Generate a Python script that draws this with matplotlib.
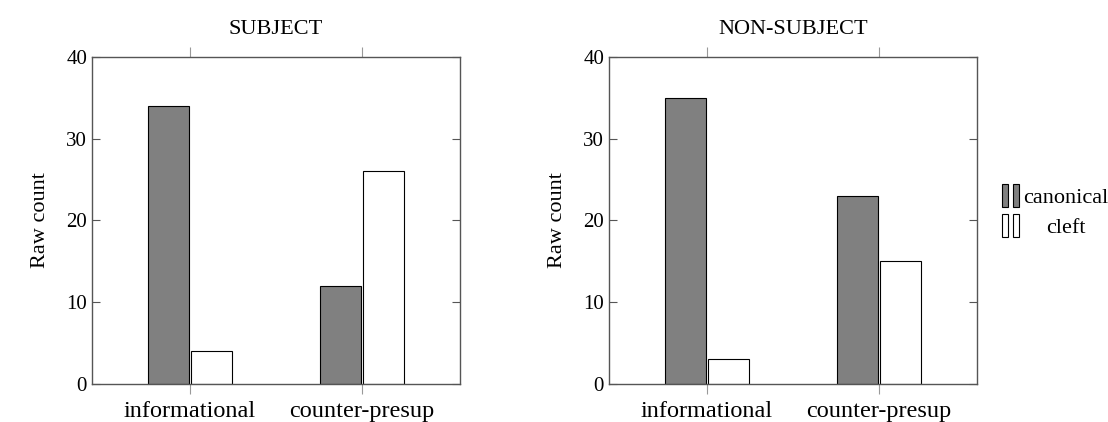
import matplotlib.pyplot as plt
from matplotlib.patches import Patch
from matplotlib.legend_handler import HandlerTuple

plt.rcParams['font.family'] = ['Liberation Serif', 'DejaVu Serif']
plt.rcParams['font.size'] = 15

categories = ['informational', 'counter-presup']
subject_canonical = [34, 12]
subject_cleft = [4, 26]
nonsubject_canonical = [35, 23]
nonsubject_cleft = [3, 15]
yticks = [0, 10, 20, 30, 40]

GRAY = '#808080'
AXC = '#555555'
width = 0.235
shift = 0.125

fig = plt.figure(figsize=(11.08, 4.22), dpi=100)
ax1 = fig.add_axes([0.083, 0.090, 0.332, 0.775])
ax2 = fig.add_axes([0.5496, 0.090, 0.332, 0.775])

x = list(range(len(categories)))
panels = [(ax1, 'SUBJECT', subject_canonical, subject_cleft),
          (ax2, 'NON-SUBJECT', nonsubject_canonical, nonsubject_cleft)]

for ax, title, canon, cleft in panels:
    ax.bar([i - shift for i in x], canon, width, color=GRAY,
           edgecolor='black', linewidth=0.8, label='canonical')
    ax.bar([i + shift for i in x], cleft, width, color='white',
           edgecolor='black', linewidth=0.8, label='cleft')
    ax.set_xlim(-0.57, 1.57)
    ax.set_ylim(0, 40)
    ax.set_yticks(yticks)
    ax.set_xticks(x)
    ax.set_xticklabels(categories, fontsize=17.5)
    ax.set_title(title, pad=16.5, fontsize=16)
    ax.set_ylabel('Raw count', labelpad=12, fontsize=16)
    for s in ax.spines.values():
        s.set_color(AXC)
        s.set_linewidth(1.0)
    ax.tick_params(axis='y', direction='in', left=True, right=True,
                   length=6, color=AXC, width=0.8)
    ax.tick_params(axis='x', direction='out', top=True, bottom=True,
                   length=7, color='#999999', width=0.8, pad=5)

h_can = (Patch(facecolor=GRAY, edgecolor='black', linewidth=0.8),
         Patch(facecolor=GRAY, edgecolor='black', linewidth=0.8))
h_cle = (Patch(facecolor='white', edgecolor='black', linewidth=0.8),
         Patch(facecolor='white', edgecolor='black', linewidth=0.8))
leg = fig.legend([h_can, h_cle], ['canonical', 'cleft'],
                 handler_map={tuple: HandlerTuple(ndivide=None, pad=0.25)},
                 loc='center left', bbox_to_anchor=(0.886, 0.50),
                 frameon=False, handlelength=0.8, handleheight=1.2,
                 handletextpad=0.15, labelspacing=0.25, fontsize=16)
# center the shorter label under the longer one, as in the reference
fig.canvas.draw()
texts = leg.get_texts()
w0 = texts[0].get_window_extent().width
w1 = texts[1].get_window_extent().width
texts[1].set_x((w0 - w1) / 2)

fig.savefig('out.png', dpi=100)
